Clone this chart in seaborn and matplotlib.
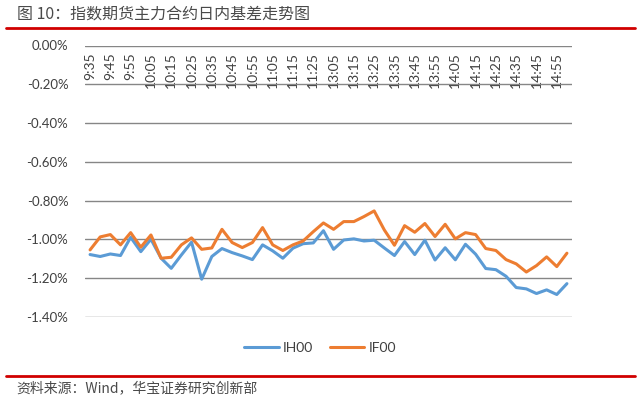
import matplotlib
matplotlib.use("Agg")
import matplotlib.pyplot as plt
import seaborn as sns
import pandas as pd
from matplotlib.ticker import FuncFormatter
from matplotlib.lines import Line2D

times = ["9:35", "9:40", "9:45", "9:50", "9:55", "10:00", "10:05", "10:10",
         "10:15", "10:20", "10:25", "10:30", "10:35", "10:40", "10:45", "10:50",
         "10:55", "11:00", "11:05", "11:10", "11:15", "11:20", "11:25", "11:30",
         "13:05", "13:10", "13:15", "13:20", "13:25", "13:30", "13:35", "13:40",
         "13:45", "13:50", "13:55", "14:00", "14:05", "14:10", "14:15", "14:20",
         "14:25", "14:30", "14:35", "14:40", "14:45", "14:50", "14:55", "15:00"]

ih00 = [-1.078, -1.088, -1.075, -1.083, -0.989, -1.063, -0.999, -1.097,
        -1.149, -1.080, -1.014, -1.205, -1.088, -1.047, -1.068, -1.085,
        -1.104, -1.028, -1.059, -1.097, -1.045, -1.022, -1.018, -0.955,
        -1.051, -1.003, -0.997, -1.008, -1.004, -1.044, -1.083, -1.011,
        -1.078, -1.004, -1.106, -1.043, -1.105, -1.025, -1.076, -1.150,
        -1.156, -1.190, -1.248, -1.255, -1.279, -1.260, -1.284, -1.228]

if00 = [-1.054, -0.987, -0.975, -1.028, -0.965, -1.040, -0.977, -1.097,
        -1.092, -1.028, -0.992, -1.051, -1.044, -0.948, -1.016, -1.042,
        -1.016, -0.939, -1.028, -1.057, -1.028, -1.008, -0.960, -0.915,
        -0.948, -0.908, -0.908, -0.882, -0.853, -0.951, -1.030, -0.929,
        -0.963, -0.918, -0.985, -0.922, -0.997, -0.965, -0.975, -1.047,
        -1.057, -1.104, -1.126, -1.168, -1.135, -1.090, -1.140, -1.071]

series_names = ["IH00", "IF00"]
colors = {"IH00": "#5B9BD5", "IF00": "#ED7D31"}
yticks = [0.0, -0.2, -0.4, -0.6, -0.8, -1.0, -1.2, -1.4]

title = "图 10：指数期货主力合约日内基差走势图"
source = "资料来源：Wind，华宝证券研究创新部"

sns.set_theme(style="white")
plt.rcParams["font.family"] = ["Lato", "Noto Sans CJK SC", "DejaVu Sans"]

df = pd.DataFrame({
    "time": times * 2,
    "pos": list(range(len(times))) * 2,
    "value": ih00 + if00,
    "series": ["IH00"] * len(times) + ["IF00"] * len(times),
})

fig = plt.figure(figsize=(6.4, 3.98), dpi=100)
ax = fig.add_axes([85 / 640, 1 - 317 / 398, (572 - 85) / 640, (317 - 45.5) / 398])

sns.lineplot(data=df, x="pos", y="value", hue="series", hue_order=series_names,
             palette=colors, linewidth=2.2, ax=ax, legend=False)

ax.set_xlim(-0.5, len(times) - 0.5)
ax.set_ylim(-1.4, 0.0)
ax.set_yticks(yticks)
ax.yaxis.set_major_formatter(FuncFormatter(lambda v, p: f"{v:.2f}%".replace("-0.00", "0.00")))
ax.grid(axis="y", color="#868686", linewidth=1.0)
ax.grid(axis="x", visible=False)
for s in ax.spines.values():
    s.set_visible(False)

tick_pos = list(range(0, len(times), 2))
ax.set_xticks(tick_pos)
ax.set_xticklabels([times[i] for i in tick_pos], rotation=90, va="top", ha="center")
ax.xaxis.tick_top()
ax.tick_params(axis="x", length=0, pad=-5, labelsize=10, labelcolor="#404040",
               labeltop=True, labelbottom=False)
ax.tick_params(axis="y", length=0, pad=12, labelsize=9.5, labelcolor="#404040")
for lab in ax.get_xticklabels():
    lab.set_verticalalignment("top")
ax.set_xlabel("")
ax.set_ylabel("")

handles = [Line2D([0], [0], color=colors[n], lw=2.2) for n in series_names]
fig.legend(handles, series_names, loc="center", bbox_to_anchor=(0.5, 1 - 348 / 398),
           ncol=2, frameon=False, fontsize=10, handlelength=2.5, columnspacing=1.2,
           handletextpad=0.3, labelcolor="#404040")

fig.text(17 / 640, 1 - 14 / 398, title, fontsize=11.5, color="#4a4a4a", va="center",
         ha="left", family=["Noto Sans CJK SC", "DejaVu Sans"])
fig.add_artist(Line2D([6 / 640, 635 / 640], [1 - 27.5 / 398] * 2, color="#D00000", lw=2.0))
fig.add_artist(Line2D([6 / 640, 635 / 640], [1 - 375.5 / 398] * 2, color="#D00000", lw=2.0))
fig.text(16 / 640, 1 - 388 / 398, source, fontsize=10, color="#4a4a4a", va="center",
         ha="left", family=["Noto Sans CJK SC", "DejaVu Sans"])

fig.savefig("out.png", dpi=100)
